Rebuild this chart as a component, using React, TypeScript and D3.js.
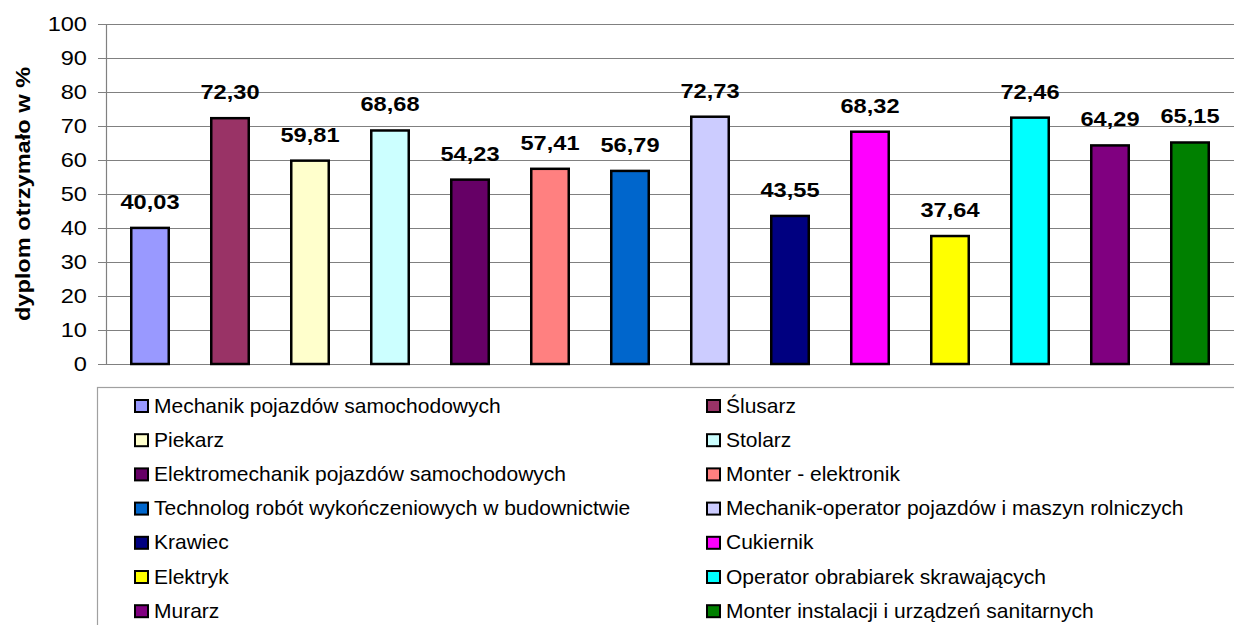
import React, { useRef, useEffect } from 'react'
import * as d3 from 'd3'

const categories = [
  'Mechanik pojazdów samochodowych',
  'Ślusarz',
  'Piekarz',
  'Stolarz',
  'Elektromechanik pojazdów samochodowych',
  'Monter - elektronik',
  'Technolog robót wykończeniowych w budownictwie',
  'Mechanik-operator pojazdów i maszyn rolniczych',
  'Krawiec',
  'Cukiernik',
  'Elektryk',
  'Operator obrabiarek skrawających',
  'Murarz',
  'Monter instalacji i urządzeń sanitarnych',
]
const values = [40.03, 72.3, 59.81, 68.68, 54.23, 57.41, 56.79, 72.73, 43.55, 68.32, 37.64, 72.46, 64.29, 65.15]
const colors = [
  '#9999FF', '#993366', '#FFFFCC', '#CCFFFF', '#660066', '#FF8080', '#0066CC',
  '#CCCCFF', '#000080', '#FF00FF', '#FFFF00', '#00FFFF', '#800080', '#008000',
]
const yTicks = [0, 10, 20, 30, 40, 50, 60, 70, 80, 90, 100]
const yTitle = 'dyplom otrzymało w %'

const W = 1234
const H = 625
const FONT = 'Liberation Sans, Arial, sans-serif'
// axis/value text in the reference is slightly wider than plain Arial
const SX = 1.18

export default function App() {
  const ref = useRef<SVGSVGElement>(null)

  useEffect(() => {
    const svg = d3.select(ref.current)
    svg.selectAll('*').remove()

    const left = 106
    const top = 24
    const bottom = 364

    const y = d3.scaleLinear().domain([0, 100]).range([bottom, top])
    const x = d3
      .scaleBand()
      .domain(categories)
      .range([110, 110 + 80 * categories.length])
      .paddingInner(0.5)
      .paddingOuter(0.25)

    svg.append('rect').attr('width', W).attr('height', H).attr('fill', '#fff')

    // gridlines + ticks
    svg
      .append('g')
      .selectAll('line')
      .data(yTicks)
      .join('line')
      .attr('x1', left - 8)
      .attr('x2', W)
      .attr('y1', d => Math.round(y(d)) + 0.5)
      .attr('y2', d => Math.round(y(d)) + 0.5)
      .attr('stroke', '#808080')
      .attr('stroke-width', 1.2)

    svg
      .append('line')
      .attr('x1', left + 0.5)
      .attr('x2', left + 0.5)
      .attr('y1', top)
      .attr('y2', bottom + 0.5)
      .attr('stroke', '#808080')
      .attr('stroke-width', 1.2)

    svg
      .append('g')
      .selectAll('text')
      .data(yTicks)
      .join('text')
      .attr('transform', d => `translate(87, ${y(d) + 7}) scale(${SX}, 1)`)
      .attr('text-anchor', 'end')
      .attr('font-family', FONT)
      .attr('font-size', 20)
      .attr('fill', '#000')
      .text(d => d)

    svg
      .append('text')
      .attr('transform', `translate(30, ${(top + bottom) / 2}) rotate(-90) scale(${SX}, 1)`)
      .attr('text-anchor', 'middle')
      .attr('font-family', FONT)
      .attr('font-size', 20)
      .attr('font-weight', 'bold')
      .text(yTitle)

    // bars
    const bw = x.bandwidth()
    svg
      .append('g')
      .selectAll('rect')
      .data(values)
      .join('rect')
      .attr('x', (d, i) => x(categories[i])! + 1.25)
      .attr('y', d => y(d))
      .attr('width', bw - 2.5)
      .attr('height', d => bottom - y(d))
      .attr('fill', (d, i) => colors[i])
      .attr('stroke', '#000')
      .attr('stroke-width', 2.5)

    svg
      .append('g')
      .selectAll('text')
      .data(values)
      .join('text')
      .attr('transform', (d, i) => `translate(${x(categories[i])! + bw / 2}, ${y(d) - 19}) scale(${SX}, 1)`)
      .attr('text-anchor', 'middle')
      .attr('font-family', FONT)
      .attr('font-size', 20)
      .attr('font-weight', 'bold')
      .text(d => d.toFixed(2).replace('.', ','))

    // legend
    const lg = svg.append('g')
    lg.append('rect')
      .attr('x', 97.5)
      .attr('y', 387.5)
      .attr('width', 1200)
      .attr('height', 300)
      .attr('fill', '#fff')
      .attr('stroke', '#a0a0a0')
      .attr('stroke-width', 1.2)

    const items = lg
      .selectAll('g')
      .data(categories)
      .join('g')
      .attr('transform', (d, i) => `translate(${i % 2 === 0 ? 134 : 706}, ${406 + Math.floor(i / 2) * 34.2})`)

    items
      .append('rect')
      .attr('x', 1)
      .attr('y', -6)
      .attr('width', 13)
      .attr('height', 12)
      .attr('fill', (d, i) => colors[i])
      .attr('stroke', '#000')
      .attr('stroke-width', 2)

    items
      .append('text')
      .attr('x', 20)
      .attr('y', 6.5)
      .attr('font-family', FONT)
      .attr('font-size', 21)
      .attr('fill', '#000')
      .text(d => d)
  }, [])

  return (
    <svg
      ref={ref}
      width={W}
      height={H}
      style={{ position: 'absolute', left: 0, top: 0, display: 'block' }}
    ></svg>
  )
}
